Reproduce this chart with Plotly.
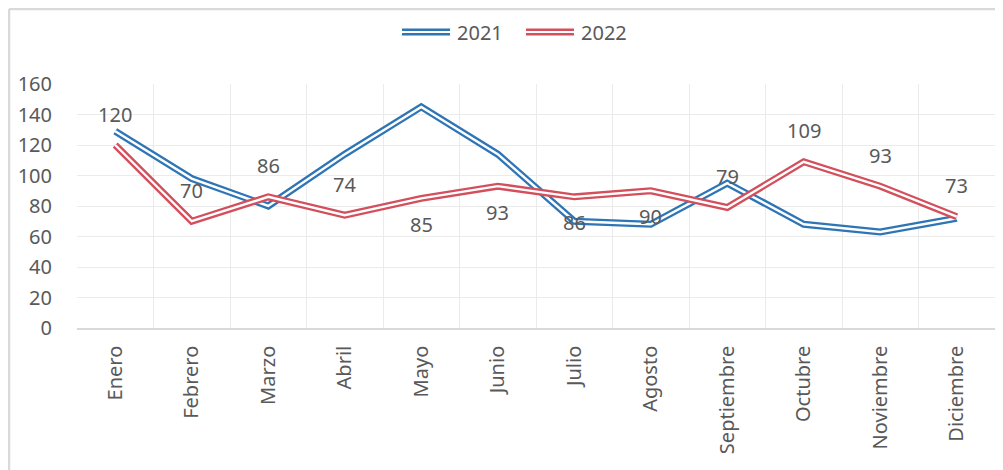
import plotly.graph_objects as go

months = ["Enero", "Febrero", "Marzo", "Abril", "Mayo", "Junio", "Julio",
          "Agosto", "Septiembre", "Octubre", "Noviembre", "Diciembre"]
y2021 = [129, 98, 80, 114, 145, 114, 70, 68, 95, 68, 63, 72]
y2022 = [120, 70, 86, 74, 85, 93, 86, 90, 79, 109, 93, 73]
label_side_2022 = ["above", "above", "above", "above", "below", "below", "below",
                   "below", "above", "above", "above", "above"]

BLUE = "#2E75B6"
RED = "#D34F5C"
TXT = "#595959"
FONT = "Noto Sans"
FS = 20

# page body adds an 8px offset; size the figure so it fits the window
OFF = 8
W, H = 995, 462
L, T = 69, 76
pw, ph = 918, 244
R, B = W - L - pw, H - T - ph


def xp(px):  # screen x -> paper
    return (px - OFF - L) / pw


def yp(py):  # screen y -> paper
    return 1 - (py - OFF - T) / ph


series = [("2021", y2021, BLUE), ("2022", y2022, RED)]

fig = go.Figure()
for name, vals, col in series:
    fig.add_trace(go.Scatter(x=months, y=vals, name=name, mode="lines",
                             line=dict(color=col, width=7), showlegend=False))
    fig.add_trace(go.Scatter(x=months, y=vals, name=name, mode="lines",
                             line=dict(color="white", width=2.4),
                             showlegend=False, hoverinfo="skip"))

for m, v, side in zip(months, y2022, label_side_2022):
    fig.add_annotation(x=m, y=v, text=str(v), showarrow=False,
                       yshift=31 if side == "above" else -26,
                       font=dict(family=FONT, size=FS, color=TXT))

# legend drawn as double-line swatches + text
leg_x = [402, 526]
for (name, vals, col), x0 in zip(series, leg_x):
    fig.add_shape(type="line", xref="paper", yref="paper",
                  x0=xp(x0), x1=xp(x0 + 48), y0=yp(32), y1=yp(32),
                  line=dict(color=col, width=7))
    fig.add_shape(type="line", xref="paper", yref="paper",
                  x0=xp(x0 - 1), x1=xp(x0 + 49), y0=yp(32), y1=yp(32),
                  line=dict(color="white", width=2.2))
    fig.add_annotation(xref="paper", yref="paper", x=xp(x0 + 53), y=yp(32),
                       text=name, showarrow=False, xanchor="left", yanchor="middle",
                       font=dict(family=FONT, size=FS, color=TXT))

# outer chart frame (top and left edges)
fig.add_shape(type="line", xref="paper", yref="paper",
              x0=xp(OFF + 1), x1=xp(OFF + W), y0=yp(OFF + 1), y1=yp(OFF + 1),
              line=dict(color="#D9D9D9", width=2.5))
fig.add_shape(type="line", xref="paper", yref="paper",
              x0=xp(OFF + 1), x1=xp(OFF + 1), y0=yp(OFF + 1), y1=yp(OFF + H),
              line=dict(color="#D9D9D9", width=2.5))

fig.update_layout(
    width=W, height=H, autosize=False,
    margin=dict(l=L, r=R, t=T, b=B, pad=0),
    plot_bgcolor="white", paper_bgcolor="white",
    font=dict(family=FONT, size=FS, color=TXT),
    showlegend=False,
    xaxis=dict(type="category", range=[-0.5, len(months) - 0.5],
               tickson="boundaries", showgrid=True, automargin=False,
               gridcolor="#EBEBEB", gridwidth=1, tickangle=-90, ticks="",
               showline=True, linecolor="#D9D9D9", linewidth=1.5,
               ticklabelstandoff=8, tickfont=dict(size=FS, color=TXT)),
    yaxis=dict(range=[0, 160], dtick=20, showgrid=True, gridcolor="#EBEBEB",
               gridwidth=1, zeroline=False, ticks="", automargin=False,
               ticklabelstandoff=24, tickfont=dict(size=FS, color=TXT)),
)

fig.write_html("out.html")
